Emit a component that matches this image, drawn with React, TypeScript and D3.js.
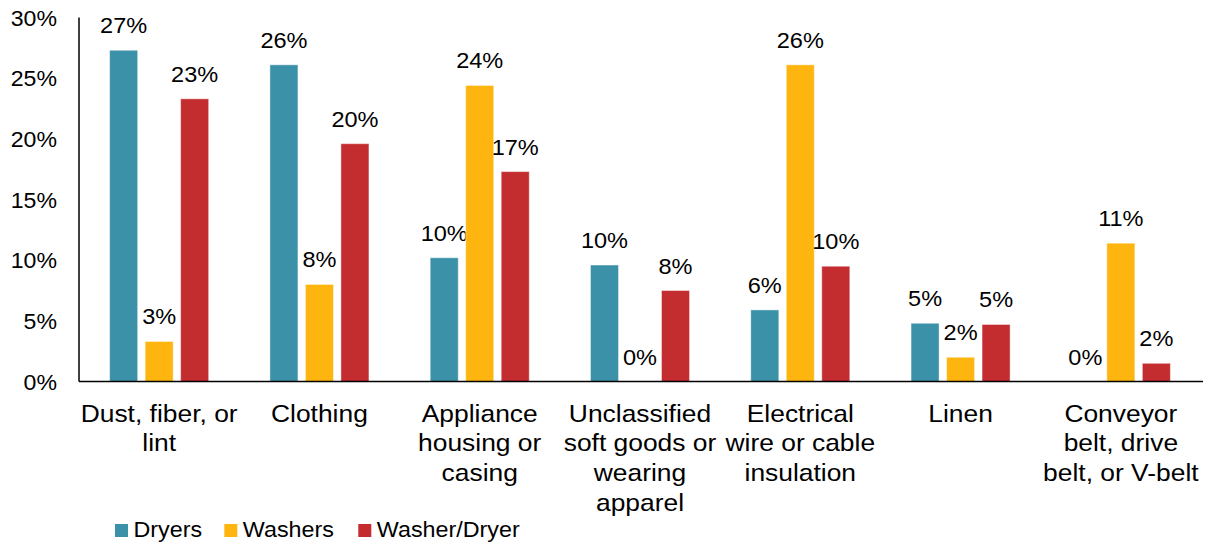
import React from "react";
import * as d3 from "d3";

const categories: string[][] = [
  ["Dust, fiber, or", "lint"],
  ["Clothing"],
  ["Appliance", "housing or", "casing"],
  ["Unclassified", "soft goods or", "wearing", "apparel"],
  ["Electrical", "wire or cable", "insulation"],
  ["Linen"],
  ["Conveyor", "belt, drive", "belt, or V-belt"],
];
const seriesNames = ["Dryers", "Washers", "Washer/Dryer"];
const dryers = [27.3, 26.1, 10.2, 9.6, 5.9, 4.8, 0];
const washers = [3.3, 8.0, 24.4, 0, 26.1, 2.0, 11.4];
const washerDryer = [23.3, 19.6, 17.3, 7.5, 9.5, 4.7, 1.5];
const seriesValues = [dryers, washers, washerDryer];
const colors = ["#3A91A8", "#FEB50F", "#C32D2F"];
const yTicks = [0, 5, 10, 15, 20, 25, 30];

const W = 1209;
const H = 544;
const FONT = "'Liberation Sans', Arial, sans-serif";

function SText({
  x,
  y,
  sx,
  size,
  anchor,
  children,
}: {
  x: number;
  y: number;
  sx: number;
  size: number;
  anchor: "start" | "middle" | "end";
  children: React.ReactNode;
}) {
  return (
    <text
      transform={`translate(${x},${y}) scale(${sx},1)`}
      textAnchor={anchor}
      fontSize={size}
      fill="#000"
    >
      {children}
    </text>
  );
}

export default function App() {
  const left = 79;
  const right = 1201;
  const top = 17.5;
  const bottom = 381.5;

  const x0 = d3
    .scaleBand<number>()
    .domain(d3.range(categories.length))
    .range([left, right])
    .paddingInner(0.382)
    .paddingOuter(0.191);
  const x1 = d3
    .scaleBand<number>()
    .domain(d3.range(seriesNames.length))
    .range([0, x0.bandwidth()])
    .paddingInner(0.21)
    .paddingOuter(0);
  const y = d3.scaleLinear().domain([0, 30]).range([bottom, top]);

  const legendX = [115, 224.3, 358.3];

  return (
    <svg
      width={W}
      height={H}
      style={{ position: "absolute", left: 0, top: 0, background: "#fff" }}
      fontFamily={FONT}
    >
      {seriesValues.map((vals, s) =>
        vals.map((v, i) => {
          const bx = (x0(i) as number) + (x1(s) as number);
          const by = y(v);
          return (
            <g key={`b${s}-${i}`}>
              {v > 0 && (
                <rect
                  x={bx}
                  y={by}
                  width={x1.bandwidth()}
                  height={bottom - by}
                  fill={colors[s]}
                  stroke="#ffffff"
                  strokeOpacity={0.45}
                  strokeWidth={1}
                />
              )}
              <SText x={bx + x1.bandwidth() / 2} y={by - 17} sx={1.07} size={22} anchor="middle">
                {`${Math.round(v)}%`}
              </SText>
            </g>
          );
        })
      )}
      {yTicks.map((t) => (
        <SText key={`t${t}`} x={57} y={y(t) + 8} sx={1.05} size={22} anchor="end">
          {`${t}%`}
        </SText>
      ))}
      <line x1={left} x2={left} y1={top} y2={bottom} stroke="#000" strokeWidth={1.5} />
      <line x1={left} x2={right + 2} y1={bottom} y2={bottom} stroke="#000" strokeWidth={1.5} />
      {categories.map((lines, i) => (
        <SText
          key={`c${i}`}
          x={(x0(i) as number) + x0.bandwidth() / 2}
          y={421.7}
          sx={1.1}
          size={24}
          anchor="middle"
        >
          {lines.map((ln, k) => (
            <tspan key={k} x={0} y={k * 29.8}>
              {ln}
            </tspan>
          ))}
        </SText>
      ))}
      {seriesNames.map((n, s) => (
        <g key={`l${s}`}>
          <rect x={legendX[s]} y={524} width={13} height={13} fill={colors[s]} />
          <SText x={legendX[s] + 18.5} y={537.3} sx={1.06} size={22} anchor="start">
            {n}
          </SText>
        </g>
      ))}
    </svg>
  );
}
